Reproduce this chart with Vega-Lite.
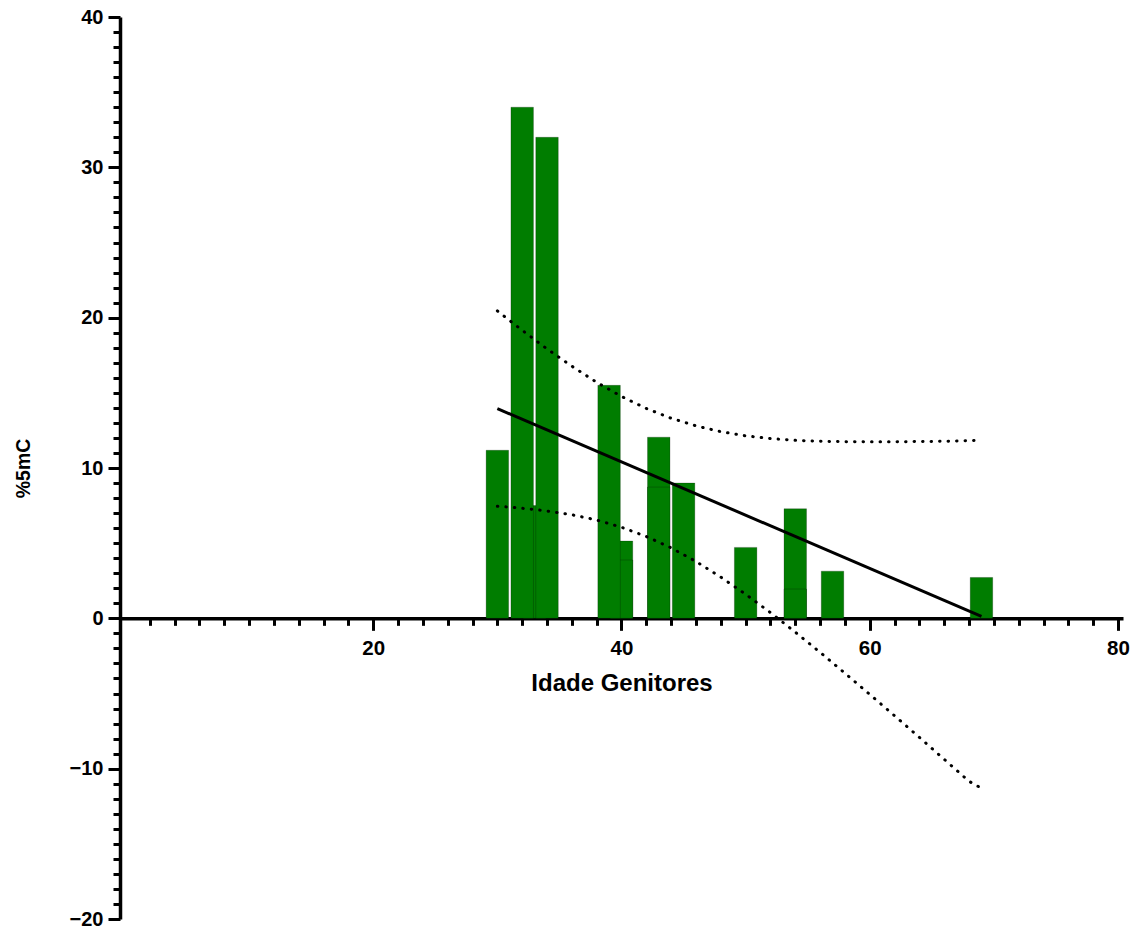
{
  "$schema": "https://vega.github.io/schema/vega-lite/v6.json",
  "width": 1003,
  "height": 902,
  "autosize": {"type": "none"},
  "padding": {"left": 120, "top": 17, "right": 19, "bottom": 10},
  "background": "white",
  "config": {"view": {"stroke": null}, "font": "Liberation Sans"},
  "datasets": {
    "barras": [
      {"idade": 33, "valor": 7.5},
      {"idade": 40, "valor": 5.14},
      {"idade": 40, "valor": 3.88},
      {"idade": 30, "valor": 11.18},
      {"idade": 32, "valor": 34.0},
      {"idade": 34, "valor": 32.0},
      {"idade": 39, "valor": 15.5},
      {"idade": 43, "valor": 12.05},
      {"idade": 43, "valor": 8.73},
      {"idade": 45, "valor": 9.0},
      {"idade": 50, "valor": 4.72},
      {"idade": 54, "valor": 7.29},
      {"idade": 54, "valor": 1.95},
      {"idade": 57, "valor": 3.14},
      {"idade": 69, "valor": 2.72}
    ],
    "regressao": [
      {"idade": 30, "valor": 13.95},
      {"idade": 69, "valor": 0.13}
    ],
    "intervalo": [
      {"curva": "superior", "idade": 30, "valor": 20.45},
      {"curva": "superior", "idade": 31, "valor": 19.8},
      {"curva": "superior", "idade": 32, "valor": 19.16},
      {"curva": "superior", "idade": 33, "valor": 18.54},
      {"curva": "superior", "idade": 34, "valor": 17.92},
      {"curva": "superior", "idade": 36, "valor": 16.77},
      {"curva": "superior", "idade": 38, "valor": 15.7},
      {"curva": "superior", "idade": 40, "valor": 14.76},
      {"curva": "superior", "idade": 42, "valor": 13.96},
      {"curva": "superior", "idade": 44, "valor": 13.31},
      {"curva": "superior", "idade": 46, "valor": 12.8},
      {"curva": "superior", "idade": 48, "valor": 12.42},
      {"curva": "superior", "idade": 50, "valor": 12.14},
      {"curva": "superior", "idade": 52, "valor": 11.96},
      {"curva": "superior", "idade": 54, "valor": 11.84},
      {"curva": "superior", "idade": 56, "valor": 11.78},
      {"curva": "superior", "idade": 58, "valor": 11.75},
      {"curva": "superior", "idade": 60, "valor": 11.74},
      {"curva": "superior", "idade": 62, "valor": 11.74},
      {"curva": "superior", "idade": 64, "valor": 11.76},
      {"curva": "superior", "idade": 66, "valor": 11.78},
      {"curva": "superior", "idade": 68, "valor": 11.82},
      {"curva": "superior", "idade": 69, "valor": 11.84},
      {"curva": "inferior", "idade": 30, "valor": 7.45},
      {"curva": "inferior", "idade": 31, "valor": 7.4},
      {"curva": "inferior", "idade": 32, "valor": 7.32},
      {"curva": "inferior", "idade": 33, "valor": 7.24},
      {"curva": "inferior", "idade": 34, "valor": 7.14},
      {"curva": "inferior", "idade": 36, "valor": 6.89},
      {"curva": "inferior", "idade": 38, "valor": 6.54},
      {"curva": "inferior", "idade": 40, "valor": 6.06},
      {"curva": "inferior", "idade": 42, "valor": 5.44},
      {"curva": "inferior", "idade": 44, "valor": 4.69},
      {"curva": "inferior", "idade": 46, "valor": 3.78},
      {"curva": "inferior", "idade": 48, "valor": 2.74},
      {"curva": "inferior", "idade": 50, "valor": 1.6},
      {"curva": "inferior", "idade": 52, "valor": 0.38},
      {"curva": "inferior", "idade": 54, "valor": -0.92},
      {"curva": "inferior", "idade": 56, "valor": -2.26},
      {"curva": "inferior", "idade": 58, "valor": -3.65},
      {"curva": "inferior", "idade": 60, "valor": -5.06},
      {"curva": "inferior", "idade": 62, "valor": -6.48},
      {"curva": "inferior", "idade": 64, "valor": -7.92},
      {"curva": "inferior", "idade": 66, "valor": -9.38},
      {"curva": "inferior", "idade": 68, "valor": -10.84},
      {"curva": "inferior", "idade": 69, "valor": -11.3}
    ]
  },
  "encoding": {
    "x": {
      "field": "idade",
      "type": "quantitative",
      "scale": {"domain": [0, 80], "nice": false, "zero": false},
      "axis": {
        "orient": "bottom",
        "offset": -300.67,
        "values": [2, 4, 6, 8, 10, 12, 14, 16, 18, 20, 22, 24, 26, 28, 30, 32, 34, 36, 38, 40, 42, 44, 46, 48, 50, 52, 54, 56, 58, 60, 62, 64, 66, 68, 70, 72, 74, 76, 78, 80],
        "grid": false,
        "domainColor": "black",
        "domainWidth": 3.5,
        "tickColor": "black",
        "tickWidth": 3,
        "tickSize": {"condition": {"test": "datum.value % 20 === 0", "value": 12}, "value": 7},
        "labelExpr": "datum.value % 20 === 0 ? datum.label : ''",
        "labelOverlap": false,
        "labelFlush": false,
        "labelFont": "Liberation Sans",
        "labelFontWeight": "bold",
        "labelFontSize": 20.5,
        "labelColor": "black",
        "labelPadding": 8.5,
        "title": "Idade Genitores",
        "titleFont": "Liberation Sans",
        "titleFontWeight": "bold",
        "titleFontSize": 24,
        "titleColor": "black",
        "titlePadding": 12
      }
    },
    "y": {
      "field": "valor",
      "type": "quantitative",
      "stack": null,
      "scale": {"domain": [-20, 40], "nice": false, "zero": false},
      "axis": {
        "orient": "left",
        "values": [-20, -19, -18, -17, -16, -15, -14, -13, -12, -11, -10, -9, -8, -7, -6, -5, -4, -3, -2, -1, 0, 1, 2, 3, 4, 5, 6, 7, 8, 9, 10, 11, 12, 13, 14, 15, 16, 17, 18, 19, 20, 21, 22, 23, 24, 25, 26, 27, 28, 29, 30, 31, 32, 33, 34, 35, 36, 37, 38, 39, 40],
        "grid": false,
        "domainColor": "black",
        "domainWidth": 3.5,
        "tickColor": "black",
        "tickWidth": 3,
        "tickSize": {"condition": {"test": "datum.value % 10 === 0", "value": 12}, "value": 7},
        "labelExpr": "datum.value % 10 === 0 ? datum.label : ''",
        "labelOverlap": false,
        "labelFlush": false,
        "labelFont": "Liberation Sans",
        "labelFontWeight": "bold",
        "labelFontSize": 20,
        "labelColor": "black",
        "labelPadding": 5,
        "title": "%5mC",
        "titleFont": "Liberation Sans",
        "titleFontWeight": "bold",
        "titleFontSize": 19.5,
        "titleColor": "black",
        "titlePadding": 36
      }
    }
  },
  "layer": [
    {
      "data": {"name": "barras"},
      "mark": {"type": "bar", "width": 22.5, "fill": "#007d00", "stroke": "black", "strokeOpacity": 0.22, "strokeWidth": 1}
    },
    {
      "data": {"name": "intervalo"},
      "mark": {"type": "line", "color": "black", "strokeWidth": 3, "strokeDash": [0.5, 8], "strokeCap": "round"},
      "encoding": {"detail": {"field": "curva"}}
    },
    {
      "data": {"name": "regressao"},
      "mark": {"type": "line", "color": "black", "strokeWidth": 3}
    }
  ]
}
